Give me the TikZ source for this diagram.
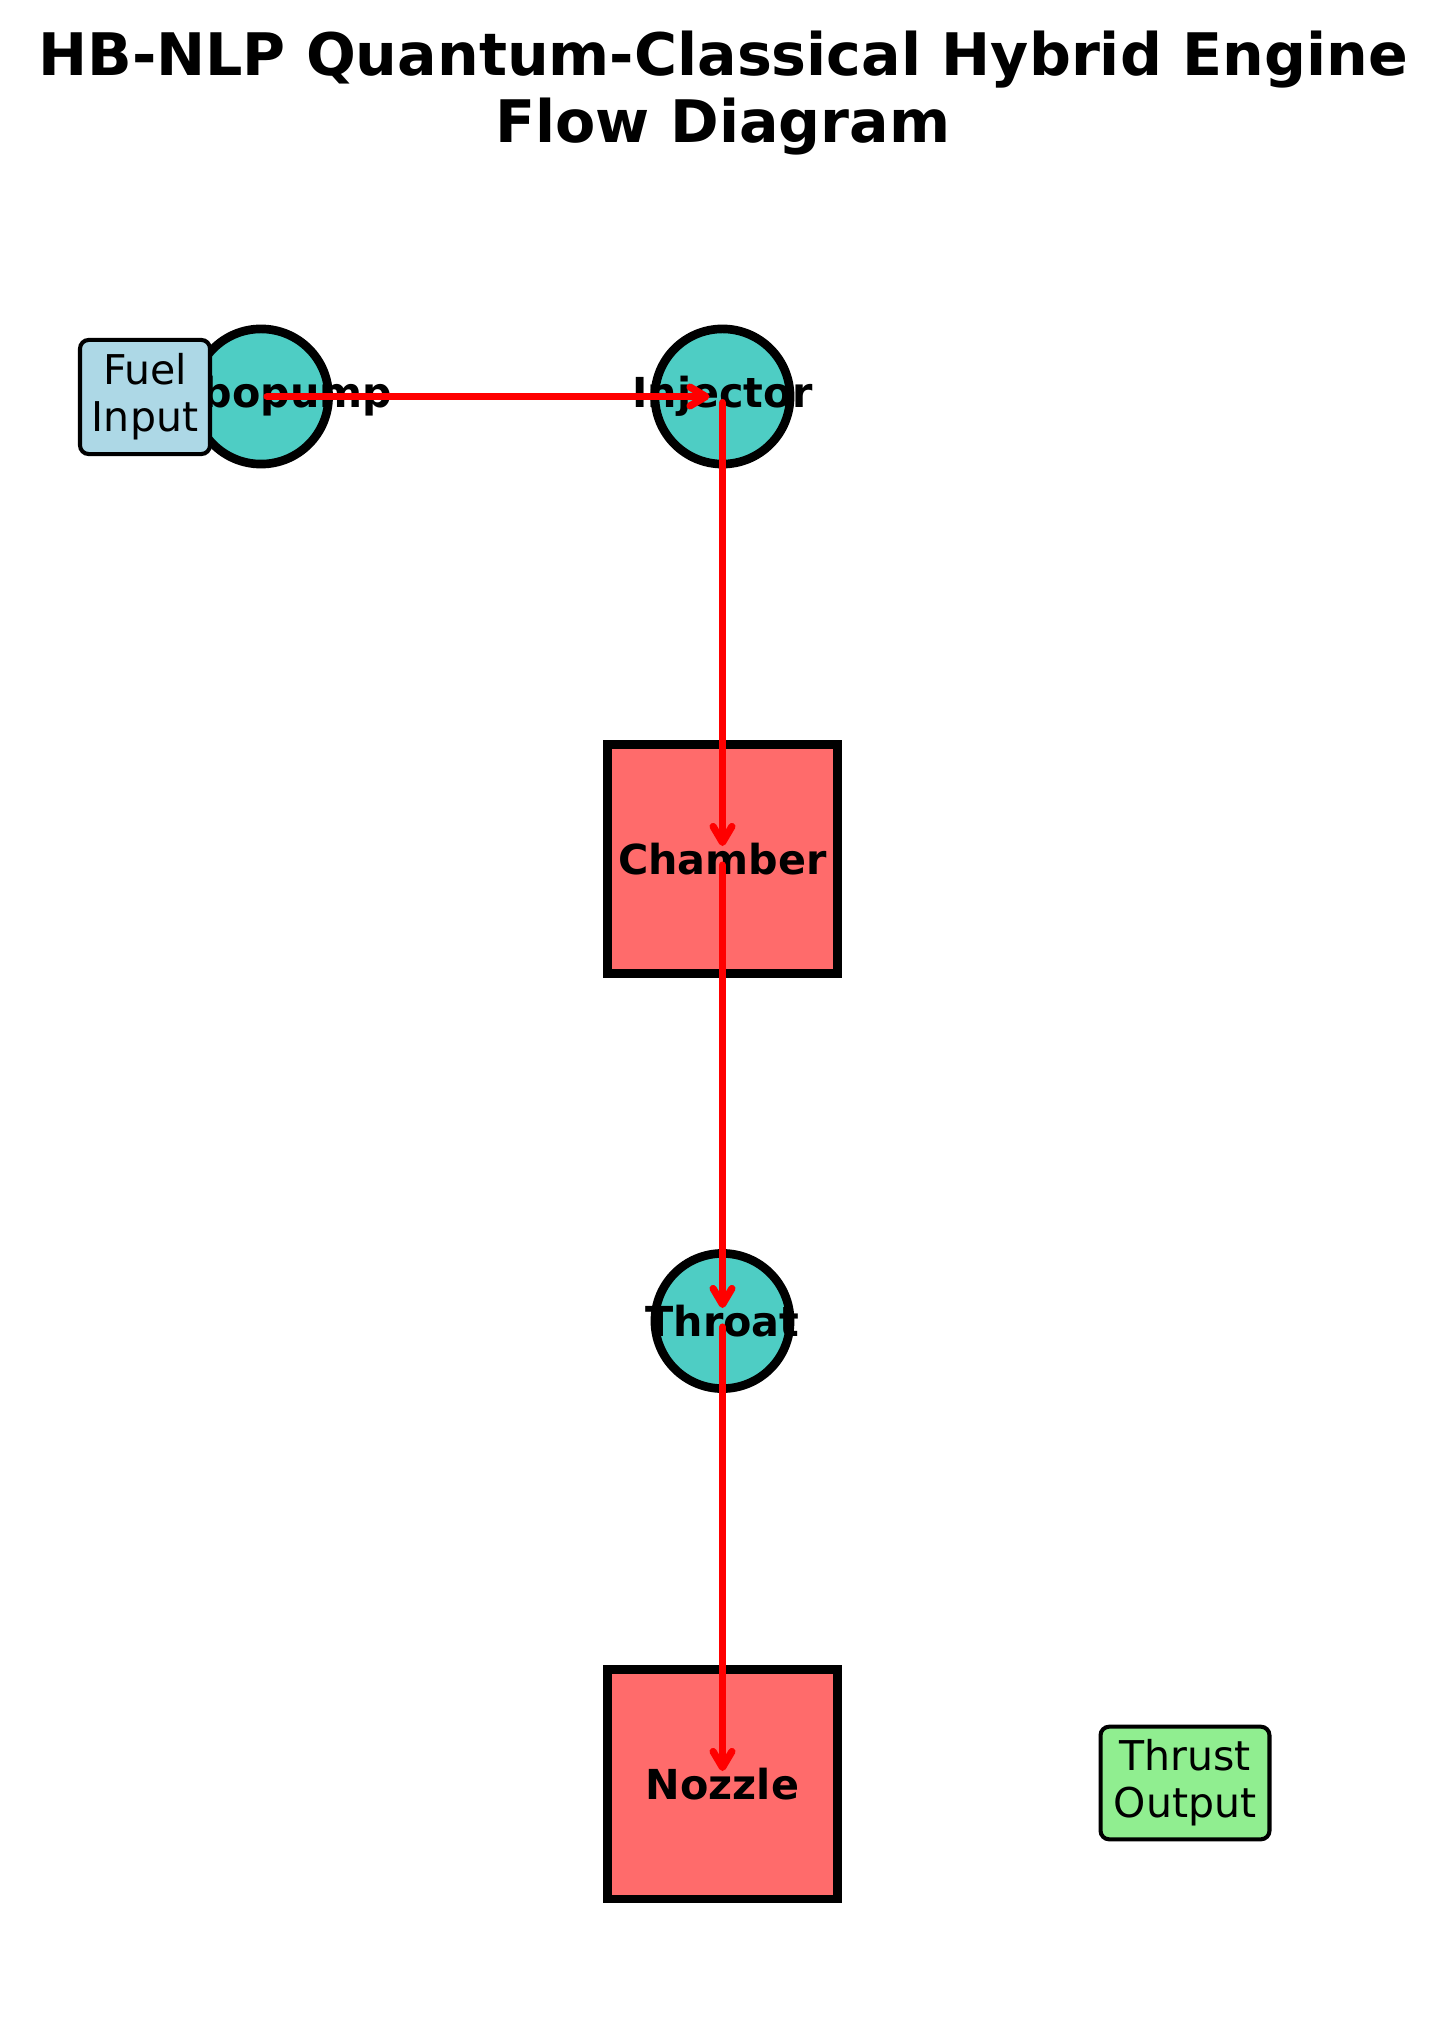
\documentclass[tikz,border=0pt]{standalone}
\usepackage{fontspec}
\setmainfont{DejaVu Sans}
\usetikzlibrary{arrows.meta}
\definecolor{teal}{HTML}{4ECDC4}
\definecolor{salmon}{HTML}{FF6B6B}
\definecolor{lblue}{HTML}{ADD8E6}
\definecolor{lgreen}{HTML}{90EE90}
\definecolor{flowred}{HTML}{FF0000}
\tikzset{
  pcirc/.style={circle, draw=black, line width=3pt, fill=teal, minimum size=46.8pt, inner sep=0pt},
  psq/.style={rectangle, draw=black, line width=3pt, fill=salmon, minimum size=79.5pt, inner sep=0pt},
  lbl/.style={font=\fontsize{14.3}{17}\selectfont\bfseries, inner sep=0pt},
  iobox/.style={rectangle, rounded corners=3pt, draw=black, line width=1.4pt, align=center,
    font=\fontsize{14.2}{16.2}\selectfont, inner sep=0pt},
  flow/.style={draw=flowred, line width=2.5pt, line cap=round,
    -{Straight Barb[length=5.5pt, width=6.5pt, round]}, shorten <=2.1pt, shorten >=4.5pt},
  ttl/.style={font=\fontsize{20.3}{23.2}\selectfont\bfseries, align=center, inner sep=0pt}
}
\begin{document}
\begin{tikzpicture}[x=0.3462pt, y=-0.3462pt]
\useasboundingbox (0,0) rectangle (1446,2044);
\node[ttl] (title) at (723,93) {HB-NLP Quantum-Classical Hybrid Engine\\Flow Diagram};
% shapes
\node[pcirc] (turbo) at (261,396.5) {};
\node[pcirc] (inj) at (722.5,396.5) {};
\node[psq] (chamber) at (722.5,859) {};
\node[pcirc] (throat) at (722.5,1321) {};
\node[psq] (nozzle) at (722.5,1784) {};
% labels
\node[lbl] (turbo-t) at (turbo) {Turbopump};
\node[lbl] (inj-t) at (inj) {Injector};
\node[lbl] (chamber-t) at (chamber) {Chamber};
\node[lbl] (throat-t) at (throat) {Throat};
\node[lbl] (nozzle-t) at (nozzle) {Nozzle};
% io boxes
\node[iobox, fill=lblue, minimum width=45pt, minimum height=39.5pt] (fuel) at (145,397) {Fuel\\Input};
\node[iobox, fill=lgreen, minimum width=58.5pt, minimum height=39pt] (thrust) at (1185,1783) {Thrust\\Output};
% flows
\draw[flow] (turbo.center) -- (inj.center);
\draw[flow] (inj.center) -- (chamber.center);
\draw[flow] (chamber.center) -- (throat.center);
\draw[flow] (throat.center) -- (nozzle.center);
\end{tikzpicture}
\end{document}
